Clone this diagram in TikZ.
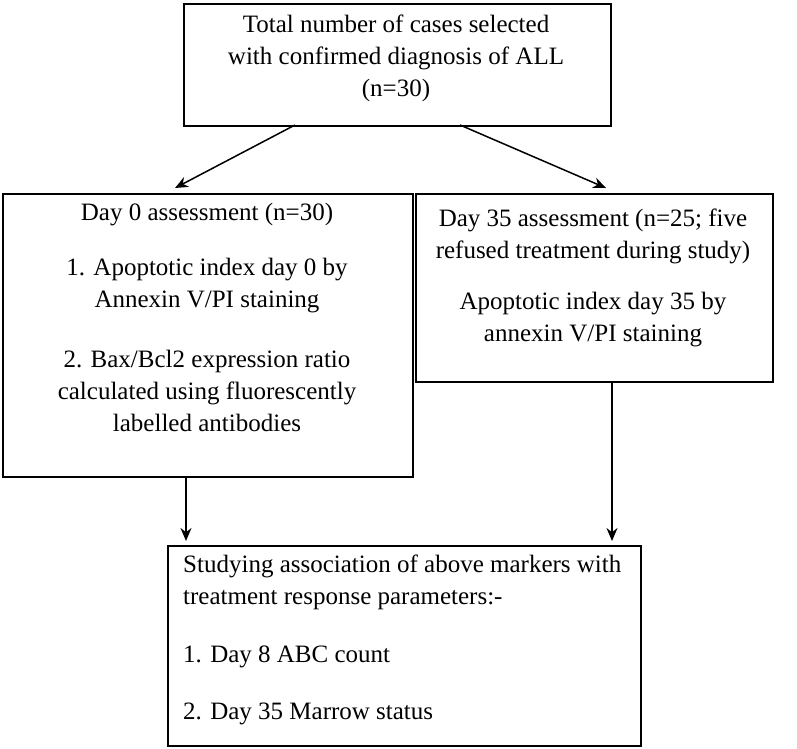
\documentclass[tikz,border=0pt]{standalone}
\usepackage{fontspec}
\setmainfont{Liberation Serif}
\usetikzlibrary{arrows.meta}
\begin{document}
\begin{tikzpicture}[x=1pt,y=-1pt,
  box/.style={draw,line width=2pt},
  txt/.style={align=center,font=\fontsize{25}{32}\selectfont,inner sep=0},
  arr/.style={-{Stealth[length=13pt,width=11pt]},line width=1.5pt}]
\useasboundingbox (0,0) rectangle (797,748);
\node[box,minimum width=427,minimum height=122,anchor=north west] (top) at (183,3) {};
\node[box,minimum width=410,minimum height=283,anchor=north west] (left) at (2,193) {};
\node[box,minimum width=357,minimum height=188,anchor=north west] (right) at (415,193) {};
\node[box,minimum width=473,minimum height=200,anchor=north west] (bot) at (167,545) {};
\node[txt] (t1) at (396,58) {Total number of cases selected\\with confirmed diagnosis of ALL\\(n=30)};
\node[txt] (l1) at (207,215) {Day 0 assessment (n=30)};
\node[txt] (l2) at (207,286) {1. Apoptotic index day 0 by\\Annexin V/PI staining};
\node[txt] (l3) at (207,391) {2. Bax/Bcl2 expression ratio\\calculated using fluorescently\\labelled antibodies};
\node[txt] (r1) at (593,236) {Day 35 assessment (n=25; five\\refused treatment during study)};
\node[txt] (r2) at (593,320) {Apoptotic index day 35 by\\annexin V/PI staining};
\node[txt,align=left,anchor=west] (b1) at (183,582) {Studying association of above markers with\\treatment response parameters:-};
\node[txt,anchor=west] (b2) at (183,657) {1. Day 8 ABC count};
\node[txt,anchor=west] (b3) at (183,714) {2. Day 35 Marrow status};
\coordinate (a1) at (295,125); \coordinate (a2) at (175,188);
\coordinate (a3) at (460,125); \coordinate (a4) at (606,188);
\coordinate (a5) at (186,477); \coordinate (a6) at (186,541);
\coordinate (a7) at (612,382); \coordinate (a8) at (612,541);
\draw[arr] (a1) -- (a2);
\draw[arr] (a3) -- (a4);
\draw[arr] (a5) -- (a6);
\draw[arr] (a7) -- (a8);
\end{tikzpicture}
\end{document}
